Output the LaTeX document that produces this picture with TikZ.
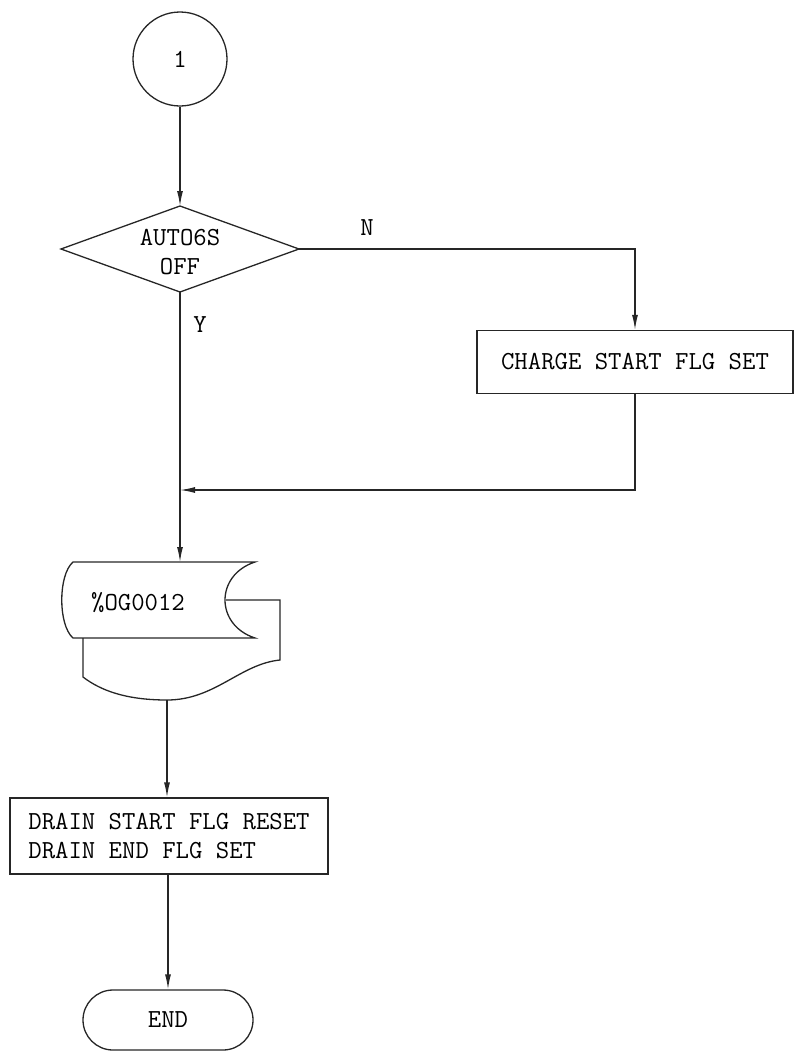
\documentclass[tikz,border=0pt]{standalone}
\usetikzlibrary{arrows.meta,shapes.geometric,shapes.misc}
\begin{document}
\begin{tikzpicture}[x=1pt,y=-1pt,
  every node/.style={font=\ttfamily\fontsize{26}{29}\selectfont},
  line/.style={line width=1.3pt,draw=black!85},
  arr/.style={line, -{Latex[length=15pt,width=6pt]}},
  procbox/.style={line, rectangle, inner sep=0pt},
  lbl/.style={inner sep=0pt}]
\useasboundingbox (0,0) rectangle (796,1055);

% connector start
\node[line, circle, minimum size=94pt, inner sep=0pt] (c1) at (180,59) {1};
% decision (drawn directly)
\coordinate (dN) at (180,206);
\coordinate (dE) at (299,249);
\coordinate (dS) at (180,292);
\coordinate (dW) at (61,249);
\draw[line] (dN) -- (dE) -- (dS) -- (dW) -- cycle;
\node[lbl, align=center] (d) at (180,252) {AUTO6S\\OFF};
\node[lbl] (n) at (367,228) {N};
\node[lbl] (y) at (200,325) {Y};
% charge box
\node[procbox, minimum width=316pt, minimum height=63pt] (chg) at (635,362) {CHARGE START FLG SET};
% stored data + document
\node[lbl] (tape) at (138,603) {\%OG0012};
\coordinate (tapetop) at (180,562);
\coordinate (tapebot) at (167,700);
\coordinate (j) at (180,490);
\draw[line] (73,562) -- (255,562) .. controls (215,575) and (215,625) .. (255,638) -- (73,638)
  .. controls (58,625) and (58,575) .. cycle;
\draw[line] (226,600) -- (280,600) -- (280,660)
  .. controls (240,664) and (215,700) .. (tapebot)
  .. controls (125,700) and (100,690) .. (83,677) -- (83,638);
% drain box
\node[procbox, minimum width=318pt, minimum height=76pt, align=left] (drain) at (169,836) {DRAIN START FLG RESET\\DRAIN END FLG SET};
% end terminal
\node[line, rounded rectangle, minimum width=170pt, minimum height=60pt, inner sep=0pt] (end) at (168,1020) {END};

% connectors
\draw[arr] (c1) -- (dN);
\draw[arr] (dE) -| (chg.north);
\draw[line] (dS) -- (j);
\draw[arr] (chg.south) |- (j);
\draw[arr] (j) -- (tapetop);
\draw[arr] (tapebot) -- (tapebot |- drain.north);
\draw[arr] (end.north |- drain.south) -- (end.north);
\end{tikzpicture}
\end{document}
